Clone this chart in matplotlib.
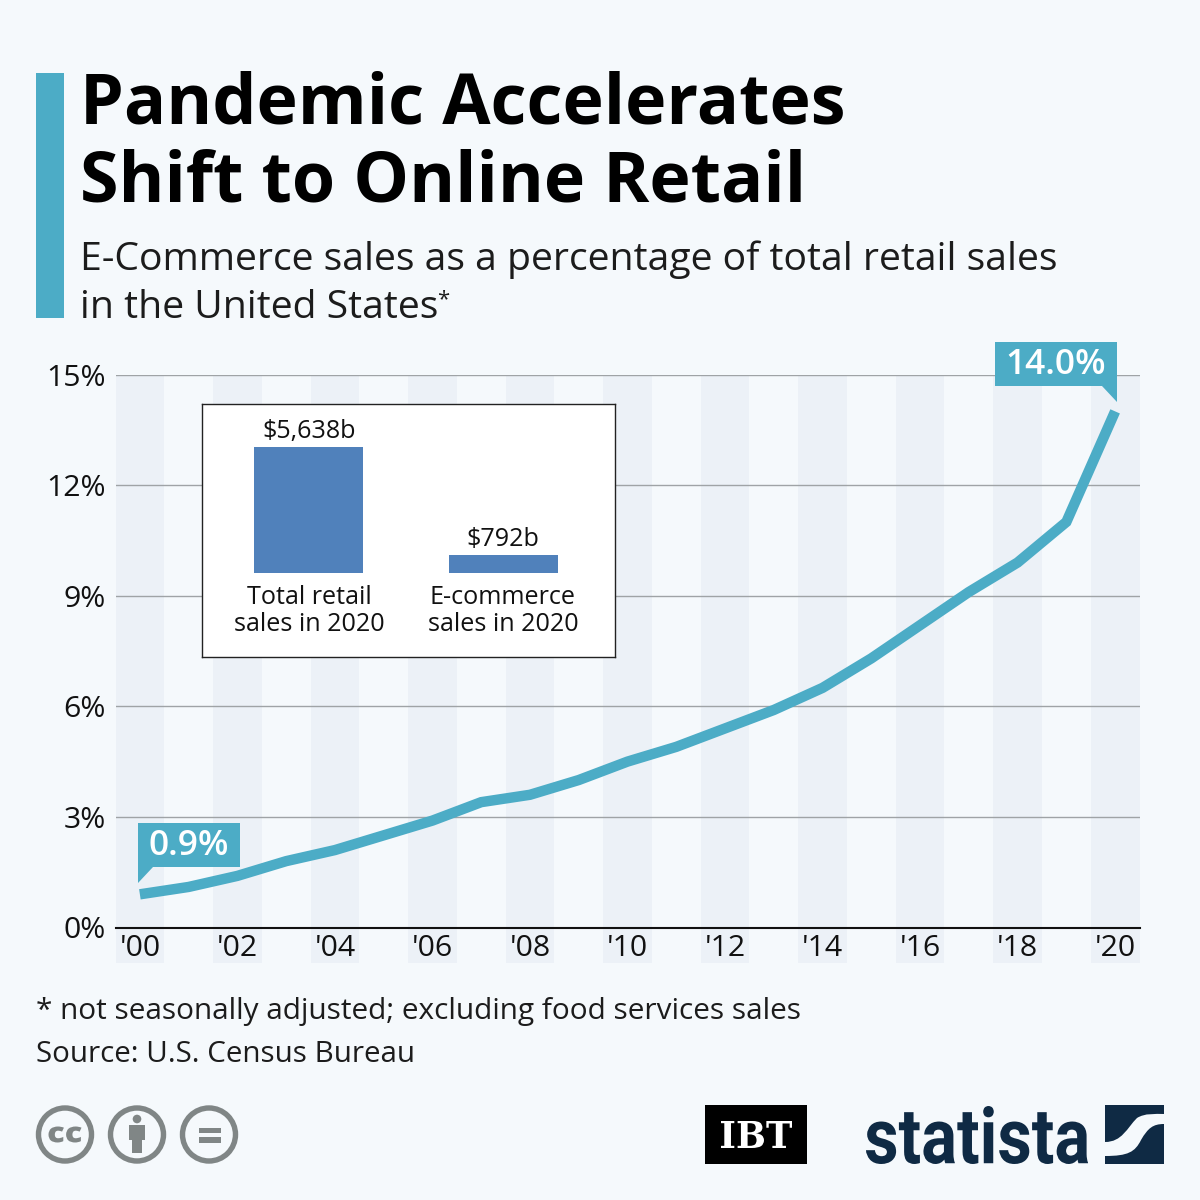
import matplotlib
matplotlib.use('Agg')
import matplotlib.pyplot as plt
from matplotlib.patches import Circle, PathPatch, Polygon, Rectangle
from matplotlib.path import Path
from matplotlib.textpath import TextPath
from matplotlib.font_manager import FontProperties
from matplotlib.transforms import Affine2D

plt.rcParams['font.family'] = ['Open Sans', 'DejaVu Sans']

years = ["'00", "'01", "'02", "'03", "'04", "'05", "'06", "'07", "'08", "'09", "'10",
         "'11", "'12", "'13", "'14", "'15", "'16", "'17", "'18", "'19", "'20"]
share = [0.9, 1.1, 1.4, 1.8, 2.1, 2.5, 2.9, 3.4, 3.6, 4.0, 4.5,
         4.9, 5.4, 5.9, 6.5, 7.3, 8.2, 9.1, 9.9, 11.0, 14.0]
y_ticks = [0, 3, 6, 9, 12, 15]

inset_labels = ['Total retail\nsales in 2020', 'E-commerce\nsales in 2020']
inset_values = [5638, 792]
inset_texts = ['$5,638b', '$792b']

BG = '#f5f9fc'
BAND = '#ecf1f7'
TEAL = '#4cacc6'
BLUE = '#5081bb'
NAVY = '#0f2a44'
GREY = '#808686'
W = H = 1200


def box(x0, y0, x1, y1):
    # pixel box (y from the top) to figure fractions
    return [x0 / W, 1 - y1 / H, (x1 - x0) / W, (y1 - y0) / H]


fig = plt.figure(figsize=(12, 12), dpi=100, facecolor=BG)

# main line chart
ax = fig.add_axes(box(115.5, 374.5, 1139.5, 927.5), facecolor='none')
for i in range(0, len(years), 2):
    ax.axvspan(i - 0.5, i + 0.5, ymin=-0.0633, ymax=1, color=BAND, lw=0, clip_on=False, zorder=0)
for t in y_ticks[1:]:
    ax.axhline(t, color='#9fa3a6', lw=1.0, zorder=1)
ax.plot(range(len(years)), share, color=TEAL, lw=7.5, solid_joinstyle='miter',
        solid_capstyle='butt', zorder=3)
ax.set_xlim(-0.5, 20.5)
ax.set_ylim(0, 15)
ax.set_yticks(y_ticks)
ax.set_yticklabels([f'{t}%' for t in y_ticks])
ax.set_xticks(range(0, len(years), 2))
ax.set_xticklabels(years[::2])
ax.tick_params(length=0, labelsize=21.8, colors='#111111')
ax.tick_params(axis='x', pad=4.5)
ax.tick_params(axis='y', pad=7)
for s in ['top', 'left', 'right']:
    ax.spines[s].set_visible(False)
ax.spines['bottom'].set_color('#111111')
ax.spines['bottom'].set_linewidth(1.5)
ax.spines['bottom'].set_zorder(4)

# overlay in pixels for header, callouts, footer and logos
ov = fig.add_axes([0, 0, 1, 1], facecolor='none')
ov.set_xlim(0, W)
ov.set_ylim(H, 0)
ov.axis('off')

ov.add_patch(Rectangle((36, 73), 28, 245, color=TEAL, lw=0))
ov.text(80, 106, 'Pandemic Accelerates', fontsize=50.4, fontweight='bold', color='black', va='center')
ov.text(80, 184, 'Shift to Online Retail', fontsize=50.4, fontweight='bold', color='black', va='center')
ov.text(80, 260, 'E-Commerce sales as a percentage of total retail sales', fontsize=28.15,
        color='#1c1c1c', va='center')
ov.text(80, 308, 'in the United States', fontsize=28.15, color='#1c1c1c', va='center')
ov.text(437, 300, '*', fontsize=16, color='#1c1c1c', va='center')

# callouts
ov.add_patch(Polygon([(138, 823), (240, 823), (240, 867), (153, 867), (138, 883)], color=TEAL, lw=0, zorder=5))
ov.text(189, 846, '0.9%', fontsize=25.5, fontweight='semibold', color='white', ha='center', va='center', zorder=6)
ov.add_patch(Polygon([(995, 342), (1117, 342), (1117, 402), (1102, 386), (995, 386)], color=TEAL, lw=0, zorder=5))
ov.text(1056, 365, '14.0%', fontsize=25.5, fontweight='semibold', color='white', ha='center', va='center', zorder=6)

# footer
ov.text(36, 1012, '* not seasonally adjusted; excluding food services sales', fontsize=21.45,
        color='#1c1c1c', va='center')
ov.text(36, 1055, 'Source: U.S. Census Bureau', fontsize=21.3, color='#1c1c1c', va='center')

# inset bars
ins = fig.add_axes(box(202, 404, 615, 657), facecolor='white', zorder=5)
ins.set_xlim(202, 615)
ins.set_ylim(-84 * 5638 / 126, 169 * 5638 / 126)
ins.bar([308.5, 503], inset_values, width=109, color=BLUE)
for x, v, t, l in zip([309, 503], inset_values, inset_texts, inset_labels):
    ins.text(x, v + 130, t, fontsize=18.1, ha='center', va='bottom', color='#111111')
    ins.text(x, -530, l, fontsize=18.1, ha='center', va='top', color='#111111', linespacing=1.1)
ins.set_xticks([])
ins.set_yticks([])
for s in ins.spines.values():
    s.set_color('#222222')
    s.set_linewidth(1)


def fit_text(s, x0, y0, x1, y1, color, **font):
    # text as a path stretched into a pixel box
    tp = TextPath((0, 0), s, size=10, prop=FontProperties(**font))
    bb = tp.get_extents()
    tr = (Affine2D().translate(-bb.x0, -bb.y0)
          .scale((x1 - x0) / bb.width, -(y1 - y0) / bb.height)
          .translate(x0, y1))
    ov.add_patch(PathPatch(tr.transform_path(tp), color=color, lw=0))


# licence badges
for cx in [65, 137, 209]:
    ov.add_patch(Circle((cx, 1134.5), 26.5, fc='none', ec=GREY, lw=3.9))
fit_text('cc', 48.5, 1126.5, 81.5, 1142.5, GREY, family='Open Sans', weight='extra bold')
ov.add_patch(Circle((137, 1119), 4.3, color=GREY, lw=0))
ov.add_patch(Rectangle((129, 1125), 16, 15, color=GREY, lw=0))
ov.add_patch(Rectangle((132, 1138), 10, 15, color=GREY, lw=0))
ov.add_patch(Rectangle((199, 1127.5), 22, 5.5, color=GREY, lw=0))
ov.add_patch(Rectangle((199, 1137), 22, 5.5, color=GREY, lw=0))

# IBT logo
ov.add_patch(Rectangle((705, 1105), 102, 59, color='black', lw=0))
fit_text('IBT', 721, 1121, 792, 1148, 'white', family='DejaVu Serif', weight='bold')

# statista logo
fit_text('statista', 866, 1106, 1088, 1164, NAVY, family='Roboto', weight='bold')
ov.add_patch(Rectangle((1105, 1105), 59, 59, color=NAVY, lw=0))
swoosh = Path([(1105, 1142), (1122, 1142), (1127, 1128), (1137, 1118), (1145, 1113), (1155, 1114), (1164, 1114),
               (1164, 1124), (1153, 1124), (1148, 1128), (1141, 1140), (1135, 1152), (1128, 1156), (1105, 1156),
               (1105, 1142)],
              [Path.MOVETO, Path.CURVE4, Path.CURVE4, Path.CURVE4, Path.CURVE4, Path.CURVE4, Path.CURVE4,
               Path.LINETO, Path.CURVE4, Path.CURVE4, Path.CURVE4, Path.CURVE4, Path.CURVE4, Path.CURVE4,
               Path.CLOSEPOLY])
ov.add_patch(PathPatch(swoosh, fc=BG, lw=0))

fig.savefig('out.png', dpi=100, facecolor=BG)
